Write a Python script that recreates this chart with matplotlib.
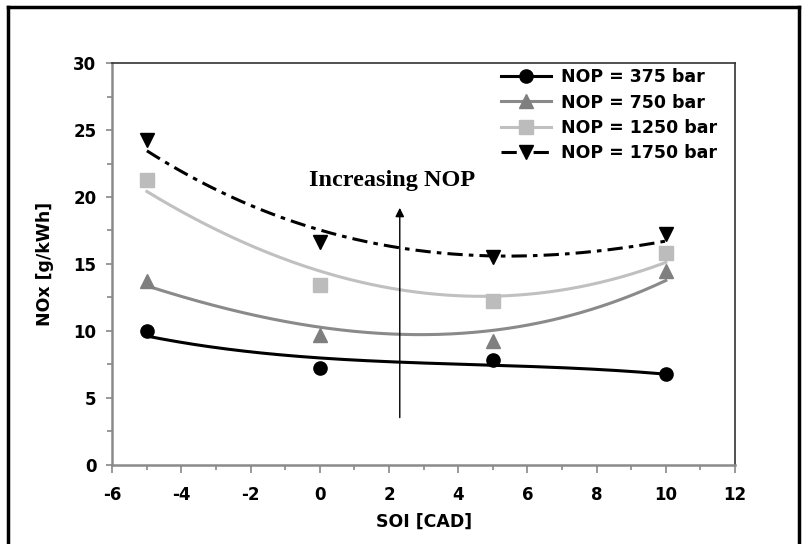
import numpy as np
import matplotlib
matplotlib.use("Agg")
import matplotlib.pyplot as plt
from matplotlib.lines import Line2D
from matplotlib.ticker import MultipleLocator

# measured points
soi = [-5, 0, 5, 10]
nox_375 = [9.95, 7.25, 7.8, 6.75]
nox_750 = [13.7, 9.7, 9.25, 14.45]
nox_1250 = [21.25, 13.4, 12.2, 15.8]
nox_1750 = [24.3, 16.65, 15.5, 17.2]
labels = ["NOP = 375 bar", "NOP = 750 bar", "NOP = 1250 bar", "NOP = 1750 bar"]

# trend-line values
trend_x = [-5, 0, 2.3, 5, 10]
trend_375 = [9.6, 8.0, 7.6, 7.45, 6.75]
trend_750 = [13.35, 10.35, 9.6, 10.1, 13.75]
trend_1250 = [20.4, 14.6, 12.85, 12.7, 15.1]
trend_1750 = [23.45, 17.6, 16.1, 15.65, 16.7]

plt.rcParams['font.family'] = ['DejaVu Sans']
plt.rcParams['axes.unicode_minus'] = False

fig = plt.figure(figsize=(8.05, 5.44), dpi=100)
ax = fig.add_axes([112.3/805, 1-464.5/544, (735-112.3)/805, (464.5-63.3)/544])

styles = [
    dict(color='black', mcolor='black', marker='o', ls='-', ms=9.5, lw=2.2),
    dict(color='#8a8a8a', mcolor='#7f7f7f', marker='^', ls='-', ms=10, lw=2.2),
    dict(color='#c0c0c0', mcolor='#bcbcbc', marker='s', ls='-', ms=10, lw=2.2),
    dict(color='black', mcolor='black', marker='v', ls=(0, (5, 2, 1.5, 2)), ms=10, lw=2.2),
]
series = [nox_375, nox_750, nox_1250, nox_1750]
trends = [trend_375, trend_750, trend_1250, trend_1750]
tx = np.array(trend_x, dtype=float)
xf = np.linspace(-5, 10, 300)
for ys, tr, st in zip(series, trends, styles):
    coef = np.polyfit(tx, tr, 3)
    ax.plot(xf, np.polyval(coef, xf), color=st['color'], ls=st['ls'], lw=st['lw'], zorder=2)
    ax.plot(soi, ys, ls='none', marker=st['marker'], color=st['mcolor'], ms=st['ms'], zorder=3)

handles = [Line2D([0], [0], color=st['color'], ls=st['ls'], lw=st['lw'], marker=st['marker'],
                  ms=st['ms'], markerfacecolor=st['mcolor'], markeredgecolor=st['mcolor'])
           for st in styles]
leg = ax.legend(handles, labels, loc='upper right', frameon=False,
                prop=dict(weight='bold', size=12.5), handlelength=2.9,
                bbox_to_anchor=(0.982, 1.005), borderaxespad=0.0,
                labelspacing=0.42, handletextpad=0.55)

ax.set_xlim(-6, 12)
ax.set_ylim(0, 30)
ax.xaxis.set_major_locator(MultipleLocator(2))
ax.xaxis.set_minor_locator(MultipleLocator(1))
ax.yaxis.set_major_locator(MultipleLocator(5))
ax.yaxis.set_minor_locator(MultipleLocator(2.5))
ax.tick_params(which='both', direction='out', color='#888888', width=1.2)
ax.tick_params(axis='x', which='major', length=5.5, pad=10, labelsize=12)
ax.tick_params(axis='y', which='major', length=4.5, pad=7, labelsize=12)
ax.tick_params(which='minor', length=3.5)
for lbl in ax.get_xticklabels() + ax.get_yticklabels():
    lbl.set_fontweight('bold')
for s in ['left', 'bottom']:
    ax.spines[s].set_color('#8a8a8a')
    ax.spines[s].set_linewidth(1.8)
for s in ['top', 'right']:
    ax.spines[s].set_color('#333333')
    ax.spines[s].set_linewidth(1.2)

ax.set_xlabel('SOI [CAD]', fontsize=12.5, fontweight='bold', labelpad=6)
ax.set_ylabel('NOx [g/kWh]', fontsize=12.5, fontweight='bold', labelpad=14)

ax.annotate('', xy=(2.31, 19.4), xytext=(2.31, 3.3),
            arrowprops=dict(arrowstyle='-|>', color='black', lw=1.0, mutation_scale=13))
ax.text(2.1, 21.2, 'Increasing NOP', ha='center', va='center',
        fontsize=17.5, fontweight='bold', family=['Liberation Serif', 'DejaVu Serif'])

# figure border (left, top, right)
bc = dict(transform=fig.transFigure, color='black', lw=2.5)
fig.add_artist(Line2D([8/805, 8/805], [0, 1-7/544], **bc))
fig.add_artist(Line2D([8/805, 799/805], [1-7/544, 1-7/544], **bc))
fig.add_artist(Line2D([799/805, 799/805], [0, 1-7/544], **bc))

fig.savefig('out.png', dpi=100)
